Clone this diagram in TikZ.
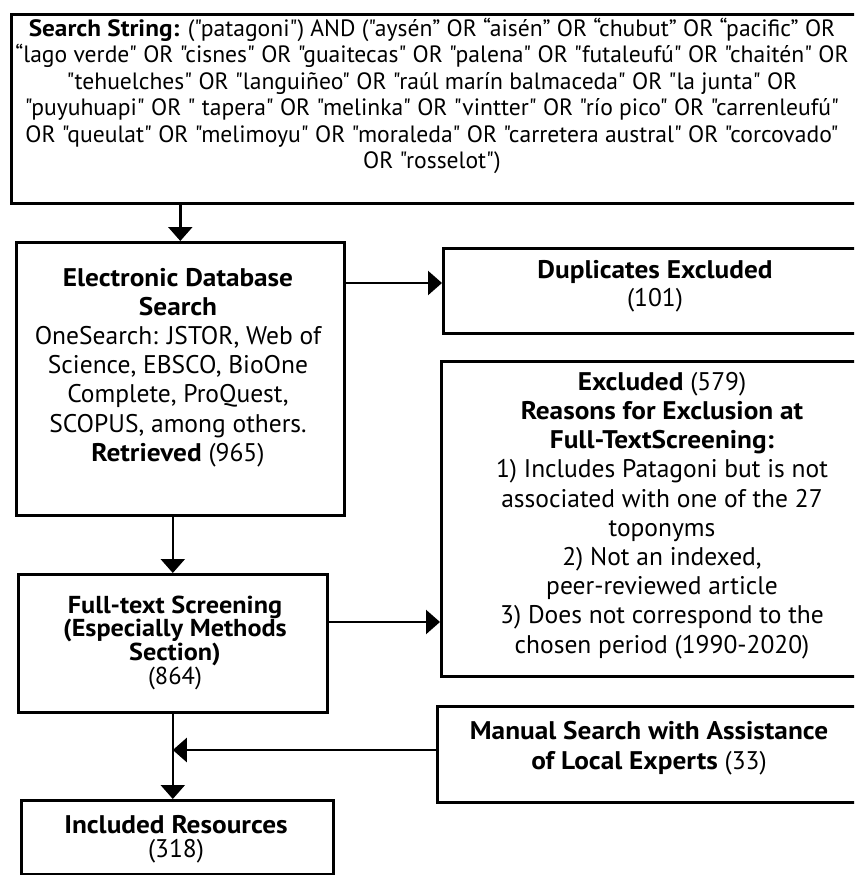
\documentclass[tikz,border=0pt]{standalone}
\usepackage{fontspec}
\setmainfont{PT Sans}[Ligatures=TeXOff, BoldFeatures={FakeStretch=1.07}]
\usetikzlibrary{arrows.meta,calc}
\begin{document}
\begin{tikzpicture}[x=1pt,y=-1pt,
  box/.style={draw, line width=2.6pt, inner sep=0pt, anchor=north west},
  lbl/.style={align=center, inner sep=0pt, font=\fontsize{25.5}{29.2}\selectfont},
  arr/.style={line width=2.4pt, -{Triangle[length=14pt,width=24pt]}}]
\useasboundingbox (0,0) rectangle (854,875);
\clip (0,0) rectangle (854,875);
% boxes
\node[box, minimum width=850pt, minimum height=189pt] (top) at (10,13) {};
\node[box, minimum width=328pt, minimum height=273pt] (ed) at (15,241) {};
\node[box, minimum width=428pt, minimum height=85pt] (dup) at (442,247) {};
\node[box, minimum width=430pt, minimum height=315pt] (excl) at (440,360) {};
\node[box, minimum width=309pt, minimum height=138pt] (full) at (17,573) {};
\node[box, minimum width=312pt, minimum height=74pt] (incl) at (20,799) {};
\node[box, minimum width=434pt, minimum height=96pt] (man) at (436,705) {};
% texts
\node[lbl, font=\fontsize{23.6}{26.5}\selectfont] (toptext) at (432,96) {%
\textbf{Search String:} ("patagoni") AND ("aysén” OR “aisén” OR “chubut” OR “pacific” OR\\
“lago verde" OR "cisnes" OR "guaitecas" OR "palena" OR "futaleufú" OR "chaitén" OR\\
"tehuelches" OR "languiñeo" OR "raúl marín balmaceda" OR "la junta" OR\\
"puyuhuapi" OR " tapera" OR "melinka" OR "vintter" OR "río pico" OR "carrenleufú"\\
OR "queulat" OR "melimoyu" OR "moraleda" OR "carretera austral" OR "corcovado"\\
OR "rosselot")};
\node[lbl] (edtext) at (178,367.5) {%
\textbf{Electronic Database}\\ \textbf{Search}\\
OneSearch: JSTOR, Web of\\ Science, EBSCO, BioOne\\ Complete, ProQuest,\\
SCOPUS, among others.\\ \textbf{Retrieved} (965)};
\node[lbl, font=\fontsize{25.5}{28}\selectfont] (duptext) at (655,286) {%
\textbf{Duplicates Excluded}\\ (101)};
\node[lbl] (excltext) at (662,515.5) {%
\textbf{Excluded} (579)\\ \textbf{Reasons for Exclusion at}\\ \textbf{Full-TextScreening:}\\
1) Includes Patagoni but is not\\ associated with one of the 27\\ toponyms\\
2) Not an indexed,\\ peer-reviewed article\\ 3) Does not correspond to the\\
chosen period (1990-2020)};
\node[lbl, font=\fontsize{24.5}{23.7}\selectfont] (fulltext) at (175,642.5) {%
\textbf{Full-text Screening}\\ \textbf{(Especially Methods}\\ \textbf{Section)}\\ (864)};
\node[lbl, font=\fontsize{25.5}{24}\selectfont] (incltext) at (176,839) {%
\textbf{Included Resources}\\ (318)};
\node[lbl, font=\fontsize{25.5}{30}\selectfont] (mantext) at (649,748) {%
\textbf{Manual Search with Assistance}\\ \textbf{of Local Experts} (33)};
% connectors
\draw[arr] (top.south -| ed.north) -- (ed.north);
\draw[arr] ($(ed.north east)+(0,42)$) coordinate (p1) -- (p1 -| dup.west);
\draw[arr] (ed.south -| full.north) -- (full.north);
\draw[arr] ($(full.north east)+(0,49)$) coordinate (p2) -- (p2 -| excl.west);
\draw[arr] (full.south) -- (full.south |- incl.north);
\draw[arr] ($(man.north west)+(0,45)$) coordinate (p3) -- (p3 -| full.south);
\end{tikzpicture}
\end{document}
